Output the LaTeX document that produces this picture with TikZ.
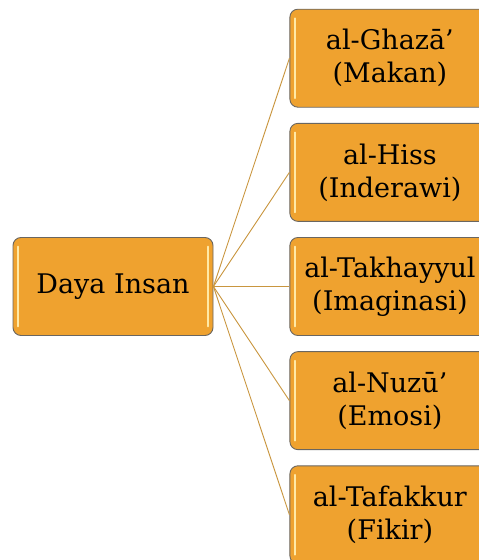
\documentclass[tikz,border=0pt]{standalone}
\usepackage{fontspec}
\setmainfont{DejaVu Serif}
\usepackage{xcolor}
\usetikzlibrary{positioning}
\definecolor{daOrange}{HTML}{EFA22F}
\definecolor{daEdge}{HTML}{6A6660}
\definecolor{daLine}{HTML}{C9963F}
\definecolor{daGloss}{HTML}{FFE9A6}

\begin{document}
\begin{tikzpicture}[
  x=1pt, y=1pt,
  node distance=15.25pt and 76pt,
  kotak/.style={draw=daEdge, fill=daOrange, rounded corners=8pt, minimum width=200pt,
                minimum height=98pt, align=center, text=black, line width=0.9pt,
                font=\fontsize{27}{33}\selectfont,
                path picture={
                  \draw[daGloss, line width=1.6pt, line cap=round]
                    ([xshift=5pt,yshift=-9pt]path picture bounding box.north west) --
                    ([xshift=5pt,yshift=9pt]path picture bounding box.south west);
                  \draw[daGloss, line width=1.6pt, line cap=round]
                    ([xshift=-5pt,yshift=-9pt]path picture bounding box.north east) --
                    ([xshift=-5pt,yshift=9pt]path picture bounding box.south east);
                }},
  garis/.style={daLine, line width=0.9pt}
]
\useasboundingbox (0,0) rectangle (479,-560);

\node[kotak] (daya) at (113,-286.5) {Daya Insan};
\node[kotak, right=of daya] (takhayyul) {al-Takhayyul\\(Imaginasi)};
\node[kotak, above=of takhayyul] (hiss) {al-Hiss\\(Inderawi)};
\node[kotak, above=of hiss] (ghaza) {al-Ghazā’\\(Makan)};
\node[kotak, below=of takhayyul] (nuzu) {al-Nuzū’\\(Emosi)};
\node[kotak, below=of nuzu] (tafakkur) {al-Tafakkur\\(Fikir)};

\foreach \n in {ghaza,hiss,takhayyul,nuzu,tafakkur}
  \draw[garis] (daya.east) -- (\n.west);

\end{tikzpicture}
\end{document}
